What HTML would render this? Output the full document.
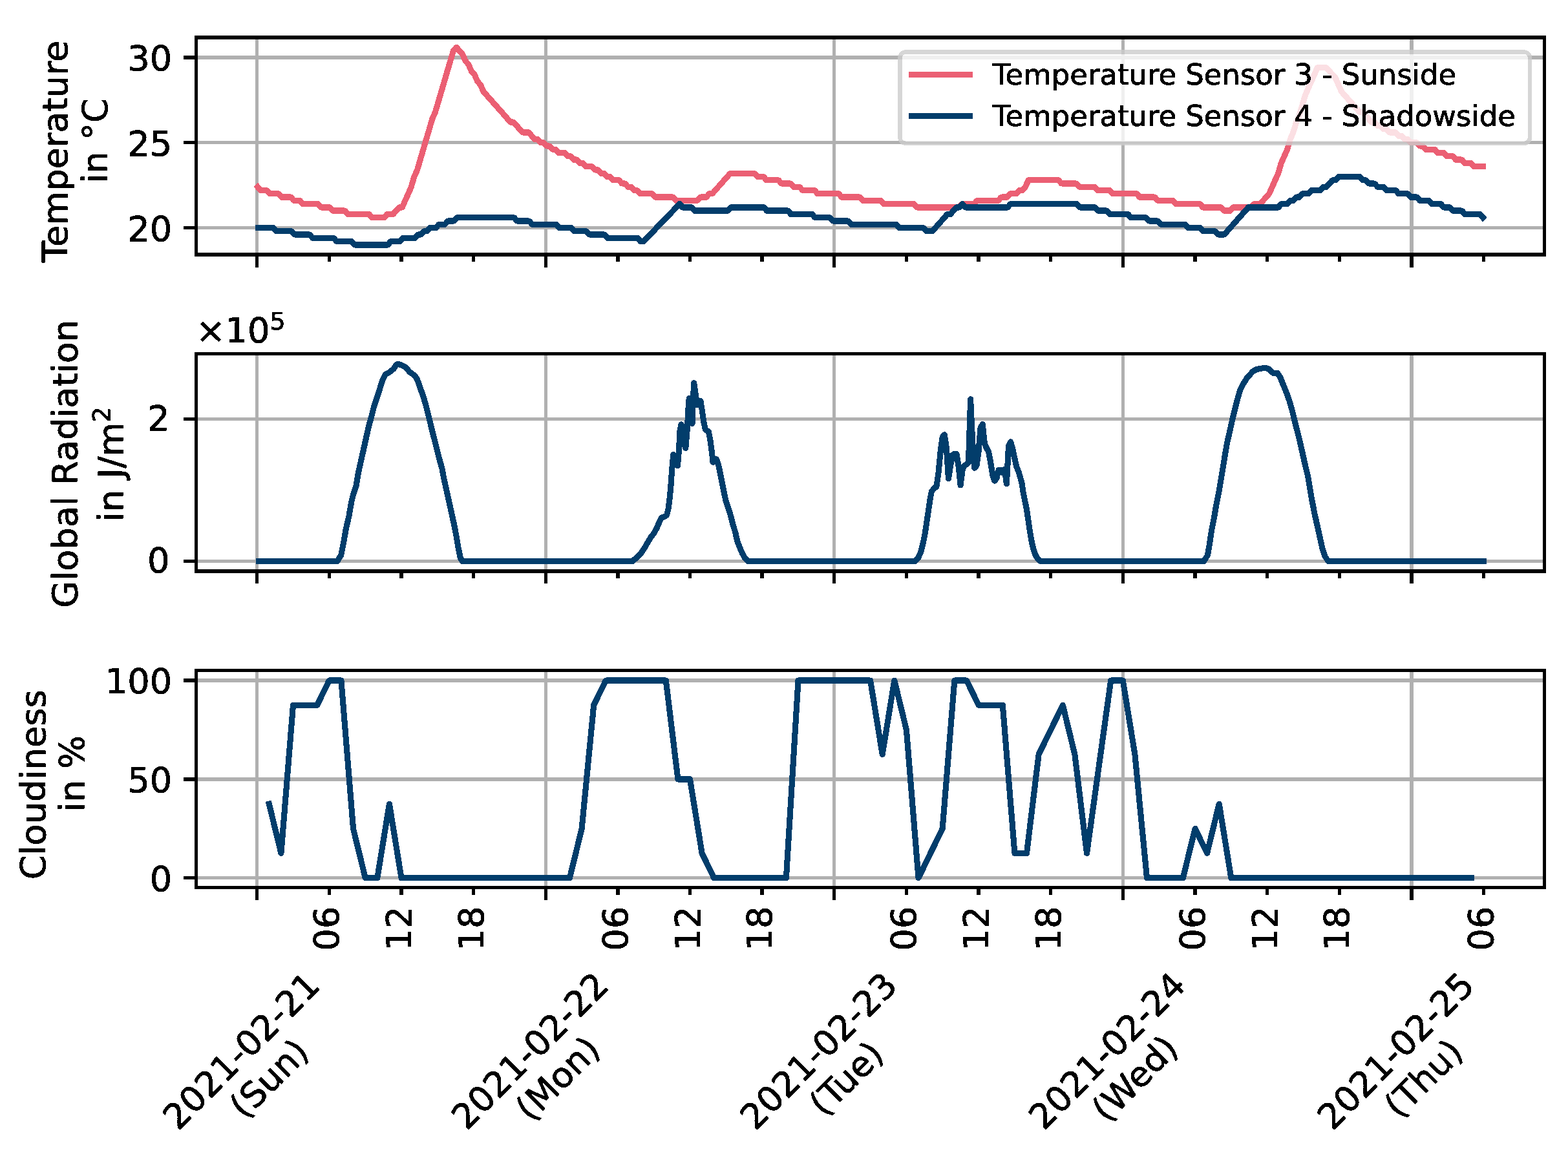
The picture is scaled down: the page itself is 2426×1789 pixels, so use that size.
<!DOCTYPE html>
<html lang="en"><head><meta charset="utf-8"><title>Temperature, Global Radiation and Cloudiness</title>
<style>html,body{margin:0;padding:0;background:#fff}body{width:2426px;height:1789px;overflow:hidden}svg{display:block}text{font-family:'DejaVu Sans','Liberation Sans',sans-serif;font-size:54.20px;fill:#000;stroke:#000;stroke-width:0.90px;stroke-linejoin:round;white-space:pre}.lg{font-size:44.90px}.sup{font-size:37.94px}</style></head><body>
<svg width="2426" height="1789" viewBox="0 0 2426 1789" shape-rendering="crispEdges" role="img" aria-label="Temperature, global radiation and cloudiness, 21-25 February 2021">
<rect width="2426" height="1789" fill="#fff"/>
<defs>
<clipPath id="c0"><rect x="303.50" y="57.90" width="2086.00" height="336.20"/></clipPath>
<clipPath id="c1"><rect x="303.50" y="547.75" width="2086.00" height="336.20"/></clipPath>
<clipPath id="c2"><rect x="303.50" y="1037.60" width="2086.00" height="336.20"/></clipPath>
<filter id="bw" x="0" y="0" width="2426" height="1789" filterUnits="userSpaceOnUse" color-interpolation-filters="sRGB"><feComponentTransfer><feFuncA type="discrete" tableValues="0 1"/></feComponentTransfer></filter>
</defs>
<g>
<path d="M397.70 57.90V394.10M844.24 57.90V394.10M1290.79 57.90V394.10M1737.33 57.90V394.10M2183.88 57.90V394.10M303.50 89.00H2389.50M303.50 220.75H2389.50M303.50 352.50H2389.50" stroke="#b0b0b0" stroke-width="5.34" fill="none"/>
<path d="M398.7 289.3L403.4 294.5L412.7 294.5L417.3 299.8L431.3 299.8L436 305.1L449.9 305.1L454.6 310.3L463.9 310.3L468.6 315.6L491.9 315.6L496.5 320.9L510.5 320.9L515.1 326.1L533.8 326.1L538.4 331.4L571 331.4L575.7 336.7L594.3 336.7L599 331.4L608.3 331.4L613 326.1L617.6 320.9L622.3 320.9L626.9 310.3L631.6 299.8L636.2 289.3L640.9 273.4L645.6 262.9L650.2 247.1L654.9 231.3L659.5 215.5L664.2 199.7L668.8 183.9L673.5 173.3L678.2 157.5L682.8 141.7L687.5 125.9L692.1 110.1L696.8 94.3L701.5 78.5L706.1 73.2L710.8 78.5L715.4 83.7L720.1 94.3L724.7 99.5L729.4 110.1L734.1 115.3L738.7 125.9L743.4 131.2L748 141.7L752.7 147L757.3 152.2L762 157.5L766.7 162.8L771.3 168L776 173.3L780.6 178.6L785.3 183.9L789.9 189.1L794.6 189.1L799.3 194.4L803.9 199.7L808.6 204.9L817.9 204.9L822.6 210.2L827.2 215.5L831.9 215.5L836.5 220.8L841.2 220.8L845.8 226L850.5 226L855.2 231.3L859.8 231.3L864.5 236.6L873.8 236.6L878.4 241.8L883.1 241.8L887.8 247.1L892.4 247.1L897.1 252.4L901.7 252.4L906.4 257.6L915.7 257.6L920.4 262.9L925 262.9L929.7 268.2L934.3 268.2L939 273.4L943.7 273.4L948.3 278.7L957.6 278.7L962.3 284L966.9 284L971.6 289.3L976.3 289.3L980.9 294.5L985.6 294.5L990.2 299.8L1008.9 299.8L1013.5 305.1L1041.5 305.1L1046.1 310.3L1078.7 310.3L1083.4 305.1L1092.7 305.1L1097.4 299.8L1102 299.8L1106.7 294.5L1111.3 289.3L1116 284L1120.6 278.7L1125.3 273.4L1130 268.2L1167.2 268.2L1171.9 273.4L1181.2 273.4L1185.9 278.7L1204.5 278.7L1209.1 284L1223.1 284L1227.8 289.3L1237.1 289.3L1241.7 294.5L1260.4 294.5L1265 299.8L1297.6 299.8L1302.3 305.1L1330.2 305.1L1334.9 310.3L1362.8 310.3L1367.5 315.6L1414.1 315.6L1418.7 320.9L1483.9 320.9L1488.6 315.6L1507.2 315.6L1511.9 310.3L1544.5 310.3L1549.2 305.1L1558.5 305.1L1563.1 299.8L1572.4 299.8L1577.1 294.5L1581.8 294.5L1586.4 289.3L1591.1 278.7L1637.6 278.7L1642.3 284L1665.6 284L1670.3 289.3L1693.5 289.3L1698.2 294.5L1716.8 294.5L1721.5 299.8L1758.7 299.8L1763.4 305.1L1786.7 305.1L1791.4 310.3L1814.6 310.3L1819.3 315.6L1856.6 315.6L1861.2 320.9L1889.2 320.9L1893.8 326.1L1903.1 326.1L1907.8 320.9L1935.7 320.9L1940.4 315.6L1949.7 315.6L1954.4 310.3L1959 305.1L1963.7 299.8L1968.3 289.3L1973 278.7L1977.7 268.2L1982.3 252.4L1987 241.8L1991.6 231.3L1996.3 215.5L2000.9 204.9L2005.6 189.1L2010.3 178.6L2014.9 162.8L2019.6 147L2024.2 136.4L2028.9 125.9L2033.6 115.3L2038.2 104.8L2052.2 104.8L2056.8 110.1L2061.5 115.3L2066.2 120.6L2070.8 131.2L2075.5 141.7L2080.1 147L2084.8 152.2L2089.4 157.5L2094.1 162.8L2098.8 168L2103.4 173.3L2108.1 173.3L2112.7 178.6L2117.4 183.9L2122 189.1L2126.7 189.1L2131.4 194.4L2136 194.4L2140.7 199.7L2145.3 199.7L2150 204.9L2159.3 204.9L2164 210.2L2168.6 210.2L2173.3 215.5L2177.9 215.5L2182.6 220.8L2191.9 220.8L2196.6 226L2201.2 226L2205.9 231.3L2219.9 231.3L2224.5 236.6L2233.8 236.6L2238.5 241.8L2247.8 241.8L2252.5 247.1L2261.8 247.1L2266.4 252.4L2275.8 252.4L2280.4 257.6L2294.4 257.6" fill="none" stroke="#eb5f73" stroke-width="9.13" stroke-linejoin="round" stroke-linecap="square" shape-rendering="geometricPrecision" clip-path="url(#c0)" filter="url(#bw)"/>
<path d="M399.8 352.5L423.1 352.5L427.7 357.8L451 357.8L455.7 363L478.9 363L483.6 368.3L516.2 368.3L520.8 373.6L544.1 373.6L548.8 378.9L600 378.9L604.6 373.6L618.6 373.6L623.2 368.3L641.9 368.3L646.5 363L651.2 363L655.8 357.8L660.5 357.8L665.1 352.5L674.4 352.5L679.1 347.2L688.4 347.2L693.1 342L702.4 342L707 336.7L795.5 336.7L800.1 342L818.8 342L823.4 347.2L860.6 347.2L865.3 352.5L883.9 352.5L888.6 357.8L907.2 357.8L911.9 363L935.1 363L939.8 368.3L986.3 368.3L991 373.6L995.6 373.6L1051.5 315.6L1056.2 320.9L1070.1 320.9L1074.8 326.1L1126 326.1L1130.6 320.9L1181.8 320.9L1186.5 326.1L1219.1 326.1L1223.7 331.4L1256.3 331.4L1261 336.7L1284.2 336.7L1288.9 342L1312.2 342L1316.8 347.2L1386.7 347.2L1391.3 352.5L1428.6 352.5L1433.2 357.8L1442.5 357.8L1447.2 352.5L1451.8 347.2L1456.5 342L1461.1 336.7L1465.8 331.4L1470.5 331.4L1475.1 326.1L1479.8 320.9L1484.4 320.9L1489.1 315.6L1493.7 320.9L1558.9 320.9L1563.5 315.6L1666 315.6L1670.6 320.9L1693.9 320.9L1698.5 326.1L1712.5 326.1L1717.2 331.4L1745.1 331.4L1749.8 336.7L1773 336.7L1777.7 342L1791.6 342L1796.3 347.2L1833.5 347.2L1838.2 352.5L1856.8 352.5L1861.5 357.8L1880.1 357.8L1884.7 363L1894.1 363L1931.3 320.9L1977.8 320.9L1982.5 315.6L1991.8 315.6L1996.5 310.3L2001.1 310.3L2005.8 305.1L2010.4 305.1L2015.1 299.8L2024.4 299.8L2029.1 294.5L2043 294.5L2047.7 289.3L2052.3 289.3L2057 284L2061.6 278.7L2066.3 278.7L2070.9 273.4L2103.5 273.4L2108.2 278.7L2112.8 278.7L2117.5 284L2126.8 284L2131.5 289.3L2140.8 289.3L2145.4 294.5L2159.4 294.5L2164 299.8L2178 299.8L2182.7 305.1L2192 305.1L2196.6 310.3L2210.6 310.3L2215.2 315.6L2229.2 315.6L2233.9 320.9L2243.2 320.9L2247.8 326.1L2261.8 326.1L2266.5 331.4L2289.7 331.4L2294.4 336.7" fill="none" stroke="#023d6b" stroke-width="9.13" stroke-linejoin="round" stroke-linecap="square" shape-rendering="geometricPrecision" clip-path="url(#c0)" filter="url(#bw)"/>
<path d="M397.70 394.10v19.47M844.24 394.10v19.47M1290.79 394.10v19.47M1737.33 394.10v19.47M2183.88 394.10v19.47M509.34 394.10v11.34M620.97 394.10v11.34M732.61 394.10v11.34M955.88 394.10v11.34M1067.52 394.10v11.34M1179.15 394.10v11.34M1402.42 394.10v11.34M1514.06 394.10v11.34M1625.70 394.10v11.34M1848.97 394.10v11.34M1960.60 394.10v11.34M2072.24 394.10v11.34M2295.51 394.10v11.34M303.50 89.00h-19.47M303.50 220.75h-19.47M303.50 352.50h-19.47" stroke="#000" stroke-width="5.34" fill="none"/>
<rect x="303.50" y="57.90" width="2086.00" height="336.20" fill="none" stroke="#000" stroke-width="5.34"/>
</g>
<g>
<path d="M397.70 547.75V883.95M844.24 547.75V883.95M1290.79 547.75V883.95M1737.33 547.75V883.95M2183.88 547.75V883.95M303.50 648.70H2389.50M303.50 868.70H2389.50" stroke="#b0b0b0" stroke-width="5.34" fill="none"/>
<path d="M400.2 868.7L521.6 868.7L527.7 859.1L531.8 838.7L534.9 820.4L540 797.9L544 775.5L547.1 763.3L551.2 751L554.2 732.7L558.3 714.3L562.4 696L566.5 677.6L570.6 659.2L574.6 645L578.7 628.6L582.8 616.4L586.9 604.2L592 587.8L596.1 579.7L603.2 575.6L609.3 570.5L613.4 564.4L615.8 563L621.6 565.4L627.7 568.5L633.8 575.6L640.9 580.7L645 585.8L650.1 600.1L655.2 614.4L659.3 628.6L663.4 645L667.4 661.3L671.5 677.6L675.6 693.9L679.7 710.2L683.8 724.5L686.8 740.8L690.9 759.2L695 777.5L699.1 795.9L703.1 814.3L706.2 830.6L709.3 848.9L712.3 863.2L715.4 868.7L978.5 868.6L985.3 862.5L992.1 855.7L997.5 847.5L1003 838L1007.1 831.2L1012.5 824.3L1016.6 816.2L1020.7 806.6L1023.4 801.2L1027.5 799.8L1031.6 797.1L1034.3 786.2L1036.4 768.5L1037.7 754.9L1039.1 734.5L1040.4 718.1L1041.7 703.6L1048.5 720.7L1050.6 694.8L1051.9 667.6L1054 656.7L1060.8 693.4L1063.5 660.8L1064.9 633.5L1066.2 616.5L1071 655.3L1072.3 619.9L1073.7 592.7L1078.5 626.7L1083.9 620.6L1086 633.5L1088.7 652.6L1091.4 664.8L1096.2 667.6L1098.9 681.2L1101.6 701.6L1103 715.2L1108.4 710.5L1111.9 720.9L1114.7 734.5L1117.4 748.1L1120.1 761.7L1122.8 774L1126.9 786.2L1131 799.8L1133.7 810.7L1137.8 824.3L1140.5 836.6L1144.6 847.5L1148.7 857L1152.8 863.8L1157.5 868.6L1416.1 868.4L1420.9 862.9L1424.9 853.4L1428.3 839.8L1431.1 826.2L1433.1 812.6L1435.2 798.9L1437.2 785.3L1439.2 771.7L1441.3 760.8L1445.8 755L1448.9 753.4L1452 731.6L1455.1 698.9L1458.2 676.1L1461.3 672.8L1464.4 693.5L1467.5 740.9L1470.6 720.7L1473.7 704.4L1476.8 702.2L1479.9 702.2L1483 720.7L1486.1 751L1489.2 726.2L1492.3 720.7L1495.4 718.6L1498.5 715.3L1501.6 617.8L1504.7 684.8L1507.8 724.3L1510.9 720.7L1514 698.9L1517.1 661.9L1520.2 656.5L1523.3 685.9L1526.4 693.5L1529.5 698.9L1532.6 715.3L1535.7 734.9L1538.8 744.2L1541.9 740.3L1545 727.3L1548.1 727.3L1551.2 731.6L1554.3 726.2L1557.4 748.5L1560.5 690.2L1563.6 683.7L1566.8 694.6L1569.9 709.8L1573 722.9L1576.1 730.5L1580.9 747.2L1582.9 760.8L1585.6 774.4L1588.4 788L1590.4 801.7L1592.4 815.3L1594.5 828.9L1596.5 839.8L1599.2 850.7L1602 858.9L1606.1 865.7L1610.1 868.4L1862.4 868.7L1868.5 859.1L1871.6 840.8L1874.6 820.4L1878.7 800L1881.8 781.6L1885.9 761.2L1888.9 742.9L1892 724.5L1895 706.2L1898.1 687.8L1902.2 669.4L1906.3 651.1L1910.3 634.8L1914.4 618.4L1918.5 604.2L1923.6 594L1928.7 585.8L1933.8 579.7L1938.9 574.6L1944 571.5L1950.1 570.5L1956.2 569.1L1962.3 570.5L1966.4 574.6L1970.5 577.6L1976.6 577.6L1980.7 583.8L1984.8 594L1989.9 606.2L1995 620.5L1999.1 634.8L2003.1 651.1L2007.2 667.4L2011.3 683.7L2015.4 702.1L2019.5 720.4L2023.5 736.7L2026.6 755.1L2029.7 773.5L2033.7 793.9L2037.8 812.2L2041.9 830.6L2046 848.9L2050.1 861.2L2055.2 868.7L2295.3 868.7" fill="none" stroke="#023d6b" stroke-width="9.13" stroke-linejoin="round" stroke-linecap="square" shape-rendering="geometricPrecision" clip-path="url(#c1)" filter="url(#bw)"/>
<path d="M397.70 883.95v19.47M844.24 883.95v19.47M1290.79 883.95v19.47M1737.33 883.95v19.47M2183.88 883.95v19.47M509.34 883.95v11.34M620.97 883.95v11.34M732.61 883.95v11.34M955.88 883.95v11.34M1067.52 883.95v11.34M1179.15 883.95v11.34M1402.42 883.95v11.34M1514.06 883.95v11.34M1625.70 883.95v11.34M1848.97 883.95v11.34M1960.60 883.95v11.34M2072.24 883.95v11.34M2295.51 883.95v11.34M303.50 648.70h-19.47M303.50 868.70h-19.47" stroke="#000" stroke-width="5.34" fill="none"/>
<rect x="303.50" y="547.75" width="2086.00" height="336.20" fill="none" stroke="#000" stroke-width="5.34"/>
</g>
<g>
<path d="M397.70 1037.60V1373.80M844.24 1037.60V1373.80M1290.79 1037.60V1373.80M1737.33 1037.60V1373.80M2183.88 1037.60V1373.80M303.50 1053.00H2389.50M303.50 1205.85H2389.50M303.50 1358.70H2389.50" stroke="#b0b0b0" stroke-width="5.34" fill="none"/>
<path d="M416.3 1244.1L434.9 1320.5L453.5 1091.2L490.7 1091.2L509.3 1053L527.9 1053L546.5 1282.3L565.2 1358.7L583.8 1358.7L602.4 1244.1L621 1358.7L881.5 1358.7L900.1 1282.3L918.7 1091.2L937.3 1053L1030.3 1053L1048.9 1205.9L1067.5 1205.9L1086.1 1320.5L1104.7 1358.7L1216.4 1358.7L1235 1053L1346.6 1053L1365.2 1167.6L1383.8 1053L1402.4 1129.4L1421 1358.7L1439.6 1320.5L1458.2 1282.3L1476.8 1053L1495.5 1053L1514.1 1091.2L1551.3 1091.2L1569.9 1320.5L1588.5 1320.5L1607.1 1167.6L1625.7 1129.4L1644.3 1091.2L1662.9 1167.6L1681.5 1320.5L1718.7 1053L1737.3 1053L1755.9 1167.6L1774.5 1358.7L1830.4 1358.7L1849 1282.3L1867.6 1320.5L1886.2 1244.1L1904.8 1358.7L2276.9 1358.7" fill="none" stroke="#023d6b" stroke-width="9.13" stroke-linejoin="round" stroke-linecap="square" shape-rendering="geometricPrecision" clip-path="url(#c2)" filter="url(#bw)"/>
<path d="M397.70 1373.80v19.47M844.24 1373.80v19.47M1290.79 1373.80v19.47M1737.33 1373.80v19.47M2183.88 1373.80v19.47M509.34 1373.80v11.34M620.97 1373.80v11.34M732.61 1373.80v11.34M955.88 1373.80v11.34M1067.52 1373.80v11.34M1179.15 1373.80v11.34M1402.42 1373.80v11.34M1514.06 1373.80v11.34M1625.70 1373.80v11.34M1848.97 1373.80v11.34M1960.60 1373.80v11.34M2072.24 1373.80v11.34M2295.51 1373.80v11.34M303.50 1053.00h-19.47M303.50 1205.85h-19.47M303.50 1358.70h-19.47" stroke="#000" stroke-width="5.34" fill="none"/>
<rect x="303.50" y="1037.60" width="2086.00" height="336.20" fill="none" stroke="#000" stroke-width="5.34"/>
</g>
<g>
<rect x="1395.71" y="83.71" width="968.08" height="134.98" rx="5.79" fill="#fff" fill-opacity="0.8"/>
<rect x="1392.50" y="80.50" width="974.50" height="141.40" rx="9.00" fill="none" stroke="#ccc" stroke-opacity="0.8" stroke-width="6.42"/>
<path d="M1410.30 115.50H1500.60" stroke="#eb5f73" stroke-width="9.13" stroke-linecap="square" fill="none"/>
<path d="M1410.30 179.50H1500.60" stroke="#023d6b" stroke-width="9.13" stroke-linecap="square" fill="none"/>
</g>
<g filter="url(#bw)">
<text transform="translate(266.30 109.30) scale(1 0.985)" text-anchor="end">30</text>
<text transform="translate(266.30 241.05) scale(1 0.985)" text-anchor="end">25</text>
<text transform="translate(266.30 372.80) scale(1 0.985)" text-anchor="end">20</text>
<text transform="translate(262.40 665.60) scale(1 0.985)" text-anchor="end">2</text>
<text transform="translate(262.40 885.60) scale(1 0.985)" text-anchor="end">0</text>
<text transform="translate(266.30 1073.30) scale(1 0.985)" text-anchor="end">100</text>
<text transform="translate(266.30 1226.15) scale(1 0.985)" text-anchor="end">50</text>
<text transform="translate(266.30 1379.00) scale(1 0.985)" text-anchor="end">0</text>
<text transform="translate(104.20 234.30) rotate(-90) scale(1 0.985)" text-anchor="middle">Temperature</text>
<text transform="translate(165.80 217.90) rotate(-90) scale(1 0.985)" text-anchor="middle">in °C</text>
<text transform="translate(119.70 717.60) rotate(-90) scale(1 0.985)" text-anchor="middle">Global Radiation</text>
<text transform="translate(190.30 718.40) rotate(-90) scale(1 0.985)" text-anchor="middle">in J/m<tspan class="sup" dy="-20.2">2</tspan></text>
<text transform="translate(70.40 1214.30) rotate(-90) scale(1 0.985)" text-anchor="middle">Cloudiness</text>
<text transform="translate(130.40 1197.20) rotate(-90) scale(1 0.985)" text-anchor="middle">in %</text>
<text transform="translate(303.20 530.10) scale(1 0.985)">×10<tspan class="sup" dy="-20.30">5</tspan></text>
<text transform="translate(524.34 1402.50) rotate(-90) scale(1 0.985)" text-anchor="end">06</text>
<text transform="translate(635.97 1402.50) rotate(-90) scale(1 0.985)" text-anchor="end">12</text>
<text transform="translate(747.61 1402.50) rotate(-90) scale(1 0.985)" text-anchor="end">18</text>
<text transform="translate(970.88 1402.50) rotate(-90) scale(1 0.985)" text-anchor="end">06</text>
<text transform="translate(1082.52 1402.50) rotate(-90) scale(1 0.985)" text-anchor="end">12</text>
<text transform="translate(1194.15 1402.50) rotate(-90) scale(1 0.985)" text-anchor="end">18</text>
<text transform="translate(1417.42 1402.50) rotate(-90) scale(1 0.985)" text-anchor="end">06</text>
<text transform="translate(1529.06 1402.50) rotate(-90) scale(1 0.985)" text-anchor="end">12</text>
<text transform="translate(1640.70 1402.50) rotate(-90) scale(1 0.985)" text-anchor="end">18</text>
<text transform="translate(1863.97 1402.50) rotate(-90) scale(1 0.985)" text-anchor="end">06</text>
<text transform="translate(1975.60 1402.50) rotate(-90) scale(1 0.985)" text-anchor="end">12</text>
<text transform="translate(2087.24 1402.50) rotate(-90) scale(1 0.985)" text-anchor="end">18</text>
<text transform="translate(2310.51 1402.50) rotate(-90) scale(1 0.985)" text-anchor="end">06</text>
<g transform="translate(386.60 1639.30) rotate(-45) scale(1 0.985)"><text text-anchor="middle" x="0.00">2021-02-21</text><text text-anchor="middle" x="0.00" y="61.93">(Sun)</text></g>
<g transform="translate(833.14 1639.30) rotate(-45) scale(1 0.985)"><text text-anchor="middle" x="0.00">2021-02-22</text><text text-anchor="middle" x="0.00" y="61.93">(Mon)</text></g>
<g transform="translate(1279.69 1639.30) rotate(-45) scale(1 0.985)"><text text-anchor="middle" x="0.00">2021-02-23</text><text text-anchor="middle" x="0.00" y="61.93">(Tue)</text></g>
<g transform="translate(1726.23 1639.30) rotate(-45) scale(1 0.985)"><text text-anchor="middle" x="0.00">2021-02-24</text><text text-anchor="middle" x="0.00" y="61.93">(Wed)</text></g>
<g transform="translate(2172.78 1639.30) rotate(-45) scale(1 0.985)"><text text-anchor="middle" x="0.00">2021-02-25</text><text text-anchor="middle" x="0.00" y="61.93">(Thu)</text></g>
<text class="lg" x="1535.70" y="130.90">Temperature Sensor 3 - Sunside</text>
<text class="lg" x="1535.70" y="195.00">Temperature Sensor 4 - Shadowside</text>
</g>
</svg></body></html>
